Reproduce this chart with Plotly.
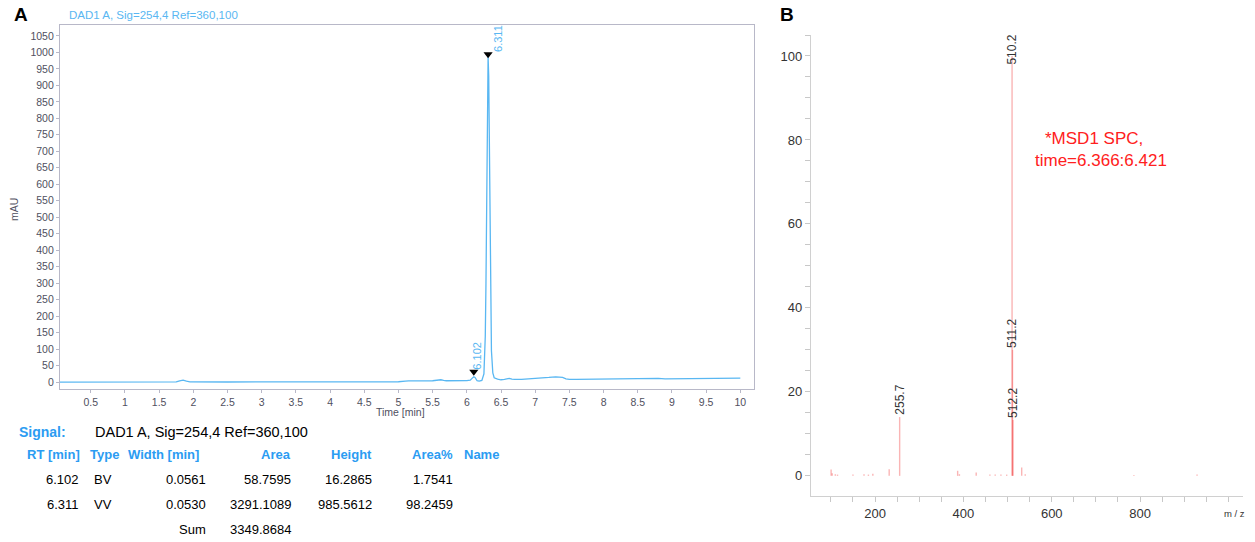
import plotly.graph_objects as go

# ---------------- Panel A: chromatogram data ----------------
time_min = [0.05, 0.5, 1.0, 1.5, 1.75, 1.80, 1.85, 1.90, 1.95, 2.5, 3.0, 3.5, 4.0, 4.5,
            5.0, 5.1, 5.15, 5.5, 5.58, 5.62, 5.66, 5.7, 6.0, 6.05, 6.08, 6.102, 6.12,
            6.15, 6.18, 6.22, 6.25, 6.27, 6.28, 6.29, 6.30, 6.311, 6.32, 6.33, 6.34,
            6.35, 6.36, 6.38, 6.40, 6.45, 6.5, 6.55, 6.62, 6.66, 6.7, 6.8, 6.9, 7.0,
            7.1, 7.2, 7.3, 7.4, 7.45, 7.5, 7.6, 8.0, 8.5, 8.6, 8.7, 8.8, 8.9, 9.0,
            9.2, 9.5, 10.0]
absorb_mau = [0, 0, 0, 0, 0.5, 4, 6, 3, 0.5, 0.3, 0.3, 0.5, 0.5, 0.8,
              1, 3, 3.5, 4, 6, 7, 5, 4, 4.5, 6, 12, 16.3, 14,
              4, 3, 5, 25, 140, 300, 560, 850, 985.6, 930, 720, 450,
              230, 95, 28, 13, 9, 7, 8, 11, 9, 8, 8, 9, 11,
              12, 14, 16, 14, 10, 8, 8, 9, 10, 12, 11, 11, 10, 10,
              12, 12, 12]

peak_rt = [6.102, 6.311]
peak_marker_mau = [31, 994]
peak_label_shift = [-5, 2]

# Integration table
tbl_rt = [6.102, 6.311]
tbl_type = ["BV", "VV"]
tbl_width = [0.0561, 0.0530]
tbl_area = [58.7595, 3291.1089]
tbl_height = [16.2865, 985.5612]
tbl_area_pct = [1.7541, 98.2459]
tbl_sum = 3349.8684

# ---------------- Panel B: mass spectrum data ----------------
ms_mz = [100.5, 103, 110, 115, 150, 175, 185, 195, 232, 255.7, 387, 391, 429,
         460, 472, 485, 498, 510.2, 511.2, 512.2, 532, 540, 786, 929]
ms_int = [1.5, 0.6, 0.4, 0.3, 0.3, 0.4, 0.3, 0.5, 1.6, 14.0, 1.2, 0.4, 0.8,
          0.3, 0.3, 0.3, 0.3, 100.0, 30.0, 13.3, 2.0, 0.4, 0.2, 0.3]
ms_labels = {255.7: "255.7", 510.2: "510.2", 511.2: "511.2", 512.2: "512.2"}
ms_tick_vals = [200, 400, 600, 800]

W, H = 1255, 542
FONT = "Liberation Sans, Arial, sans-serif"
BLUE_LINE = "#59b7f2"
BLUE_TXT = "#2b9cf2"
GRAY_AX = "#b8b8c8"
GRAY_TXT = "#505060"


def px(x):
    return x / W


def py(y):
    return 1 - y / H


fig = go.Figure()

# Chromatogram
fig.add_trace(go.Scatter(x=time_min, y=absorb_mau, mode="lines",
                         line=dict(color=BLUE_LINE, width=1.3),
                         xaxis="x", yaxis="y", showlegend=False, hoverinfo="skip"))
fig.add_trace(go.Scatter(x=peak_rt, y=peak_marker_mau, mode="markers",
                         marker=dict(symbol="triangle-down", size=8, color="black"),
                         xaxis="x", yaxis="y", showlegend=False, hoverinfo="skip"))
for rt, ym, sh in zip(peak_rt, peak_marker_mau, peak_label_shift):
    fig.add_annotation(x=rt, y=ym, xref="x", yref="y", text=f"{rt:.3f}",
                       textangle=-90, showarrow=False, xanchor="left", yanchor="bottom",
                       xshift=sh, yshift=0,
                       font=dict(family=FONT, size=11, color=BLUE_LINE))

# Mass spectrum sticks (one trace per stick so overlaps deepen colour)
for mz, inten in zip(ms_mz, ms_int):
    fig.add_trace(go.Scatter(x=[mz, mz], y=[0, inten], mode="lines",
                             line=dict(color="rgba(240,30,30,0.33)", width=1.4),
                             xaxis="x2", yaxis="y2", showlegend=False, hoverinfo="skip"))
for mz, inten in zip(ms_mz, ms_int):
    if mz in ms_labels:
        fig.add_annotation(x=mz, y=min(inten, 97.5), xref="x2", yref="y2",
                           text=ms_labels[mz], textangle=-90, showarrow=False,
                           xanchor="center", yanchor="bottom",
                           font=dict(family=FONT, size=12, color="#333333"))

fig.add_annotation(x=px(1043), y=py(138), xref="paper", yref="paper",
                   text="*MSD1 SPC,", showarrow=False, xanchor="left", yanchor="middle",
                   font=dict(family=FONT, size=17, color="#ff2020"))
fig.add_annotation(x=px(1033), y=py(161), xref="paper", yref="paper",
                   text="time=6.366:6.421", showarrow=False, xanchor="left", yanchor="middle",
                   font=dict(family=FONT, size=17, color="#ff2020"))

# Panel letters and titles
fig.add_annotation(x=px(12), y=py(15), xref="paper", yref="paper", text="<b>A</b>",
                   showarrow=False, xanchor="left", yanchor="middle",
                   font=dict(family=FONT, size=19, color="black"))
fig.add_annotation(x=px(778), y=py(15), xref="paper", yref="paper", text="<b>B</b>",
                   showarrow=False, xanchor="left", yanchor="middle",
                   font=dict(family=FONT, size=19, color="black"))
fig.add_annotation(x=px(67), y=py(15), xref="paper", yref="paper",
                   text="DAD1 A, Sig=254,4 Ref=360,100", showarrow=False,
                   xanchor="left", yanchor="middle",
                   font=dict(family=FONT, size=11.5, color=BLUE_LINE))
fig.add_annotation(x=px(14), y=py(210), xref="paper", yref="paper", text="mAU",
                   textangle=-90, showarrow=False, xanchor="center", yanchor="middle",
                   font=dict(family=FONT, size=10.5, color=GRAY_TXT))
fig.add_annotation(x=px(400), y=py(412), xref="paper", yref="paper", text="Time [min]",
                   showarrow=False, xanchor="center", yanchor="middle",
                   font=dict(family=FONT, size=10.5, color=GRAY_TXT))
fig.add_annotation(x=px(1234), y=py(513), xref="paper", yref="paper", text="m / z",
                   showarrow=False, xanchor="center", yanchor="middle",
                   font=dict(family=FONT, size=9.5, color="#333333"))

# Integration table text
def txt(x, y, s, anchor="right", color="black", bold=False, size=13):
    fig.add_annotation(x=px(x), y=py(y), xref="paper", yref="paper",
                       text=f"<b>{s}</b>" if bold else s, showarrow=False,
                       xanchor=anchor, yanchor="middle",
                       font=dict(family=FONT, size=size, color=color))

txt(17, 432, "Signal:", anchor="left", color=BLUE_TXT, bold=True, size=14)
txt(93, 432, "DAD1 A, Sig=254,4 Ref=360,100", anchor="left", size=14.5)
row_h = 454
txt(82, row_h, "RT [min]", color=BLUE_TXT, bold=True)
txt(88, row_h, "Type", anchor="left", color=BLUE_TXT, bold=True)
txt(201, row_h, "Width [min]", color=BLUE_TXT, bold=True)
txt(293, row_h, "Area", color=BLUE_TXT, bold=True)
txt(374, row_h, "Height", color=BLUE_TXT, bold=True)
txt(455, row_h, "Area%", color=BLUE_TXT, bold=True)
txt(462, row_h, "Name", anchor="left", color=BLUE_TXT, bold=True)
for i, yrow in enumerate([479, 504]):
    txt(81, yrow, f"{tbl_rt[i]:.3f}")
    txt(92, yrow, tbl_type[i], anchor="left")
    txt(208, yrow, f"{tbl_width[i]:.4f}")
    txt(293, yrow, f"{tbl_area[i]:.4f}")
    txt(374, yrow, f"{tbl_height[i]:.4f}")
    txt(455, yrow, f"{tbl_area_pct[i]:.4f}")
txt(208, 529, "Sum")
txt(293, 529, f"{tbl_sum:.4f}")

fig.update_layout(
    width=W, height=H,
    margin=dict(l=0, r=0, t=0, b=0),
    paper_bgcolor="white", plot_bgcolor="white",
    showlegend=False,
    xaxis=dict(domain=[px(60), px(754)], range=[0.05, 10.2], anchor="y",
               tickmode="array", tickvals=[0.5 * k for k in range(1, 21)],
               ticktext=[f"{0.5 * k:g}" for k in range(1, 21)],
               showgrid=False, zeroline=False, showline=True, linecolor=GRAY_AX,
               linewidth=1.3, mirror=True, ticks="outside", ticklen=3, tickcolor=GRAY_AX,
               tickfont=dict(family=FONT, size=10.5, color=GRAY_TXT)),
    yaxis=dict(domain=[py(389), py(25)], range=[-21, 1083], anchor="x",
               tickmode="linear", tick0=0, dtick=50,
               showgrid=False, zeroline=False, showline=True, linecolor=GRAY_AX,
               linewidth=1.3, mirror=True, ticks="outside", ticklen=3, tickcolor=GRAY_AX,
               tickfont=dict(family=FONT, size=10.5, color=GRAY_TXT)),
    xaxis2=dict(domain=[px(811), px(1243)], range=[55, 1033], anchor="y2",
                tickmode="array", tickvals=ms_tick_vals,
                ticktext=[str(v) for v in ms_tick_vals],
                minor=dict(dtick=50, tick0=0, ticklen=5, tickcolor="#c8c8c8", ticks="outside"),
                showgrid=False, zeroline=False, showline=True, linecolor="#d0d0d0",
                linewidth=1.3, ticks="outside", ticklen=5, tickcolor="#c8c8c8",
                tickfont=dict(family=FONT, size=13, color="#333333")),
    yaxis2=dict(domain=[py(496), py(35)], range=[-4.8, 105], anchor="x2",
                tickmode="linear", tick0=0, dtick=20,
                minor=dict(dtick=5, tick0=0, ticklen=5, tickcolor="#c8c8c8", ticks="outside"),
                showgrid=False, zeroline=False, showline=True, linecolor="#d0d0d0",
                linewidth=1.3, ticks="outside", ticklen=5, tickcolor="#c8c8c8",
                tickfont=dict(family=FONT, size=13, color="#333333")),
)

fig.write_html("out.html", config={"displayModeBar": False},
               post_script="document.body.style.margin='0px';document.body.style.overflow='hidden';")
